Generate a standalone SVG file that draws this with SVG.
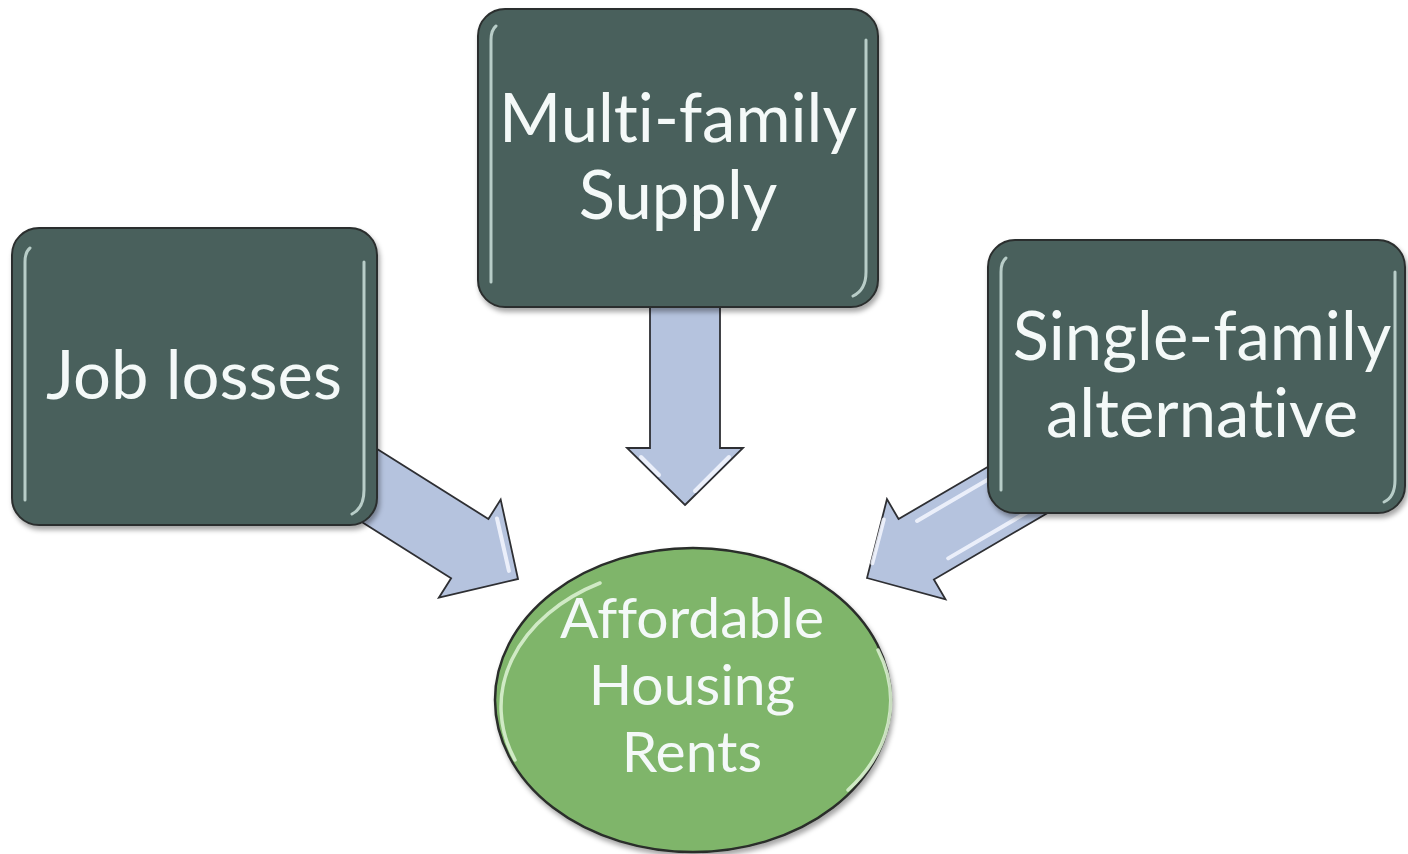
<svg xmlns="http://www.w3.org/2000/svg" width="1408" height="854" viewBox="0 0 1408 854">
  <defs>
    <style>
      .box { fill: #4a605c; stroke: #2b2f2e; stroke-width: 2; }
      .bevel { fill: none; stroke: #d4e8e4; stroke-width: 3; stroke-linecap: round; opacity: 0.8; }
      .label { font-family: Lato, "Open Sans", "Liberation Sans", sans-serif; fill: #f4f9f8; text-anchor: middle; font-variant-ligatures: none; font-feature-settings: "liga" 0, "clig" 0; }
      .big { font-size: 67px; }
      .small { font-size: 57px; }
      .arrow { fill: #b5c3de; stroke: #2e2f33; stroke-width: 1.8; stroke-linejoin: miter; }
      .shine { fill: none; stroke: #f4f7ff; stroke-width: 4; stroke-linecap: round; opacity: 0.85; }
      .hub { fill: #7fb56b; stroke: #2a2d2a; stroke-width: 2.5; }
      .hubshine { fill: none; stroke: #d9f0cf; stroke-width: 3.5; stroke-linecap: round; opacity: 0.9; }
    </style>
    <filter id="shadow" x="-10%" y="-10%" width="125%" height="125%">
      <feDropShadow dx="2" dy="4" stdDeviation="2.5" flood-color="#000" flood-opacity="0.35"/>
    </filter>
    <!-- block arrow pointing along +x, tip at the origin -->
    <path id="blockArrow" d="M0,0 L-57,-58 L-57,-35 L-220,-35 L-220,35 L-57,35 L-57,58 Z"/>
  </defs>

  <rect width="1408" height="854" fill="#ffffff"/>

  <!-- connectors -->
  <g id="connectors">
    <g transform="translate(518,579) rotate(32.2)">
      <use href="#blockArrow" class="arrow"/>
      <path class="shine" d="M-50,-40 L-12,-2"/>
    </g>
    <g transform="translate(685,505) rotate(90)">
      <use href="#blockArrow" class="arrow"/>
      <path class="shine" d="M-48,-44 L-14,-10"/>
      <path class="shine" d="M-48,44 L-30,26"/>
    </g>
    <g transform="translate(867,578) rotate(149.7)">
      <use href="#blockArrow" class="arrow"/>
      <path class="shine" d="M-190,24 L-72,24"/>
      <path class="shine" d="M-190,-24 L-80,-24"/>
      <path class="shine" d="M-44,42 L-12,10"/>
    </g>
  </g>

  <!-- Job losses -->
  <g id="node-job-losses">
    <rect class="box" x="12" y="228" width="365" height="297" rx="27" filter="url(#shadow)"/>
    <path class="bevel" d="M25,262 Q25,252 30,248 M25,262 L25,500"/>
    <path class="bevel" d="M364,262 L364,490 Q364,508 352,514"/>
    <text class="label big" x="194" y="399">Job losses</text>
  </g>

  <!-- Multi-family Supply -->
  <g id="node-multi-family">
    <rect class="box" x="478" y="9" width="400" height="298" rx="27" filter="url(#shadow)"/>
    <path class="bevel" d="M491,40 Q491,30 496,26 M491,40 L491,282"/>
    <path class="bevel" d="M866,40 L866,272 Q866,290 853,296"/>
    <text class="label big" x="678" y="142">Multi-family</text>
    <text class="label big" x="678" y="219">Supply</text>
  </g>

  <!-- Single-family alternative -->
  <g id="node-single-family">
    <rect class="box" x="988" y="240" width="417" height="273" rx="27" filter="url(#shadow)"/>
    <path class="bevel" d="M1001,272 Q1001,262 1006,258 M1001,272 L1001,490"/>
    <path class="bevel" d="M1395,272 L1395,480 Q1395,497 1384,502"/>
    <text class="label big" x="1202" y="360">Single-family</text>
    <text class="label big" x="1202" y="437">alternative</text>
  </g>

  <!-- Affordable Housing Rents -->
  <g id="node-affordable-rents">
    <ellipse class="hub" cx="693" cy="700" rx="198" ry="152" filter="url(#shadow)"/>
    <path class="hubshine" d="M515,760 A186,140 0 0 1 600,583"/>
    <path class="hubshine" d="M878,650 A186,140 0 0 1 848,790"/>
    <text class="label small" x="692" y="638">Affordable</text>
    <text class="label small" x="692" y="705">Housing</text>
    <text class="label small" x="692" y="772">Rents</text>
  </g>
</svg>
